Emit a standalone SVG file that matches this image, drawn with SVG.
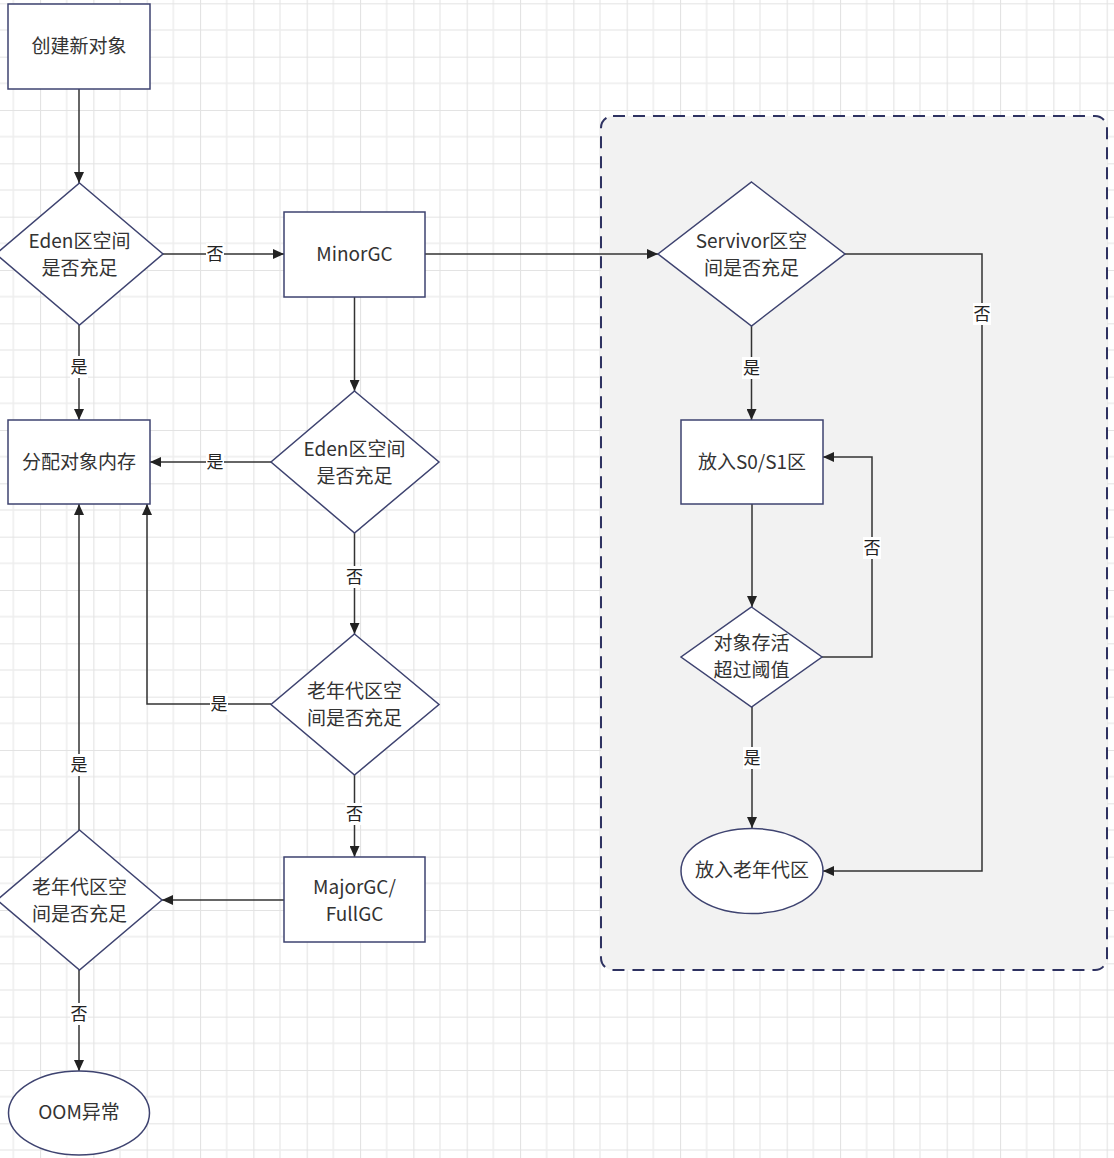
<svg xmlns="http://www.w3.org/2000/svg" width="1114" height="1158" viewBox="0 0 1114 1158">
<defs>
<pattern id="grid" patternUnits="userSpaceOnUse" x="40" y="3.33" width="53.333" height="53.333">
<path d="M26.67 0V53.333M0 26.67H53.333" stroke="#ededed" stroke-width="1.5" fill="none"/>
<path d="M0 0V53.333M0 0H53.333" stroke="#e3e3e3" stroke-width="2.2" fill="none"/>
</pattern>
<marker id="arr" markerUnits="userSpaceOnUse" markerWidth="12" markerHeight="10" refX="11" refY="5" orient="auto">
<path d="M0 0L11 5L0 10Z" fill="#222"/>
</marker>
<style>
.n{fill:#fff;stroke:#3e4370;stroke-width:1.5}
.t{font-family:"Noto Sans CJK SC","Noto Sans",sans-serif;font-size:19px;fill:#333;text-anchor:middle}
.c{fill:none;stroke:#333;stroke-width:1.5;marker-end:url(#arr)}
.lb{fill:#fff}
.l{font-family:"Noto Sans CJK SC","Noto Sans",sans-serif;font-size:17px;fill:#222;text-anchor:middle}
</style>
</defs>
<rect width="1114" height="1158" fill="#fff"/>
<rect width="1114" height="1158" fill="url(#grid)"/>

<g id="container">
<rect x="601" y="116" width="506" height="854" rx="12" fill="#f2f2f2" stroke="#2e3261" stroke-width="2" stroke-dasharray="12 8"/>
</g>

<g id="connectors">
<path class="c" d="M79 89V183"/>
<path class="c" d="M163 254H284"/>
<path class="c" d="M79 325V420"/>
<path class="c" d="M425 254H658"/>
<path class="c" d="M354.5 297V391"/>
<path class="c" d="M271 462H150"/>
<path class="c" d="M354.5 533V634"/>
<path class="c" d="M271 704H147V504"/>
<path class="c" d="M354.5 775V857"/>
<path class="c" d="M284 900H162"/>
<path class="c" d="M79 830V504"/>
<path class="c" d="M79 970V1071"/>
<path class="c" d="M751.5 326V420"/>
<path class="c" d="M845 254H982V871H823"/>
<path class="c" d="M752 504V607"/>
<path class="c" d="M822 657H872V457H823"/>
<path class="c" d="M752 707V828"/>
<g id="labels">
<rect class="lb" x="206" y="243" width="18" height="22"/><text class="l" x="215" y="260">否</text>
<rect class="lb" x="70" y="356" width="18" height="22"/><text class="l" x="79" y="373">是</text>
<rect class="lb" x="206" y="451" width="18" height="22"/><text class="l" x="215" y="468">是</text>
<rect class="lb" x="345" y="566" width="18" height="22"/><text class="l" x="354.5" y="583">否</text>
<rect class="lb" x="210" y="693" width="18" height="22"/><text class="l" x="219" y="710">是</text>
<rect class="lb" x="345" y="803" width="18" height="22"/><text class="l" x="354.5" y="820">否</text>
<rect class="lb" x="70" y="754" width="18" height="22"/><text class="l" x="79" y="771">是</text>
<rect class="lb" x="70" y="1003" width="18" height="22"/><text class="l" x="79" y="1020">否</text>
<rect class="lb" x="742" y="357" width="18" height="22"/><text class="l" x="751.5" y="374">是</text>
<rect class="lb" x="973" y="303" width="18" height="22"/><text class="l" x="982" y="320">否</text>
<rect class="lb" x="863" y="537" width="18" height="22"/><text class="l" x="872" y="554">否</text>
<rect class="lb" x="743" y="747" width="18" height="22"/><text class="l" x="752" y="764">是</text>
</g>
</g>

<g id="n-create"><rect class="n" x="8" y="4" width="142" height="85"/><text class="t" x="79" y="53">创建新对象</text></g>
<g id="n-eden1"><path class="n" d="M79.5 183L163 254L79.5 325L-4 254Z"/><text class="t" x="79.5" y="248">Eden区空间</text><text class="t" x="79.5" y="275">是否充足</text></g>
<g id="n-minorgc"><rect class="n" x="284" y="212" width="141" height="85"/><text class="t" x="354.5" y="261">MinorGC</text></g>
<g id="n-alloc"><rect class="n" x="8" y="420" width="142" height="84"/><text class="t" x="79" y="469">分配对象内存</text></g>
<g id="n-eden2"><path class="n" d="M354.5 391L439 462L354.5 533L271 462Z"/><text class="t" x="354.5" y="456">Eden区空间</text><text class="t" x="354.5" y="483">是否充足</text></g>
<g id="n-old1"><path class="n" d="M354.5 634L439 704.5L354.5 775L271 704.5Z"/><text class="t" x="354.5" y="698">老年代区空</text><text class="t" x="354.5" y="725">间是否充足</text></g>
<g id="n-majorgc"><rect class="n" x="284" y="857" width="141" height="85"/><text class="t" x="354.5" y="894">MajorGC/</text><text class="t" x="354.5" y="921">FullGC</text></g>
<g id="n-old2"><path class="n" d="M79.5 830L162 900L79.5 970L-3 900Z"/><text class="t" x="79.5" y="894">老年代区空</text><text class="t" x="79.5" y="921">间是否充足</text></g>
<g id="n-oom"><ellipse class="n" cx="79" cy="1113" rx="70.5" ry="42"/><text class="t" x="79" y="1119">OOM异常</text></g>
<g id="n-servivor"><path class="n" d="M751.5 182L845 254L751.5 326L658 254Z"/><text class="t" x="751.5" y="248">Servivor区空</text><text class="t" x="751.5" y="275">间是否充足</text></g>
<g id="n-s0s1"><rect class="n" x="681" y="420" width="142" height="84"/><text class="t" x="752" y="469">放入S0/S1区</text></g>
<g id="n-threshold"><path class="n" d="M751.5 607L822 657L751.5 707L681 657Z"/><text class="t" x="751.5" y="650">对象存活</text><text class="t" x="751.5" y="677">超过阈值</text></g>
<g id="n-old3"><ellipse class="n" cx="752" cy="871" rx="71" ry="42.5"/><text class="t" x="752" y="877">放入老年代区</text></g>
</svg>
